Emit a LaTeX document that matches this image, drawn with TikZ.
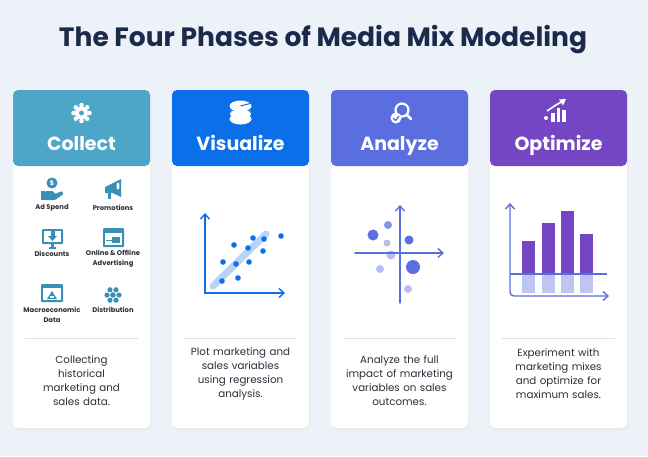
\documentclass[tikz,border=0pt]{standalone}
\usepackage{fontspec}
\setmainfont{Poppins}
\usetikzlibrary{arrows.meta}
\definecolor{bg}{HTML}{EDF1F8}
\definecolor{navy}{HTML}{1B2A4A}
\definecolor{cA}{HTML}{4DA6C8}
\definecolor{cB}{HTML}{0A6FE8}
\definecolor{cC}{HTML}{5B6EE0}
\definecolor{cD}{HTML}{7446C4}
\definecolor{icn}{HTML}{3A8FB5}
\definecolor{txt}{HTML}{2A2F3A}
\definecolor{sep}{HTML}{DDE2EA}
\tikzset{
 card/.style={fill=white,rounded corners=5pt,draw=none},
 head/.style={rounded corners=5pt,draw=none},
 htitle/.style={text=white,font=\fontsize{19}{21}\selectfont\bfseries,anchor=base},
 desc/.style={text=txt,font=\fontsize{10.3}{14}\selectfont,align=center,text width=115pt},
 ilab/.style={text=txt,font=\fontsize{6.8}{10}\selectfont\bfseries,align=center},
 ax/.style={line width=1.4pt,line cap=round,{Straight Barb[length=5pt,width=9pt]}-{Straight Barb[length=5pt,width=9pt]}},
 ax1/.style={line width=1.4pt,line cap=round,-{Straight Barb[length=5pt,width=9pt]}},
}
\begin{document}
\begin{tikzpicture}[x=1pt,y=-1pt]
\fill[bg] (0,0) rectangle (648,456);
\useasboundingbox (0,0) rectangle (648,456);
\node[text=navy,font=\fontsize{26.5}{30}\selectfont\bfseries] (title) at (323,40) {The Four Phases of Media Mix Modeling};
\foreach \x/\c/\n in {13/cA/a,172/cB/b,331/cC/c,490/cD/d}{
 \fill[black!8,rounded corners=5pt] ({\x+1},92) rectangle ({\x+138},430);
 \path[card] (\x,90) rectangle ({\x+137},428);
 \path[head,fill=\c] (\x,90) rectangle ({\x+137},166);
 \draw[sep,line width=0.8pt] ({\x+12},338) -- ({\x+125},338);
}
\node[htitle] (ha) at (81.5,150) {Collect};
\node[htitle] (hb) at (240.5,150) {Visualize};
\node[htitle] (hc) at (399.5,150) {Analyze};
\node[htitle] (hd) at (558.5,150) {Optimize};
% header icons
\begin{scope}[white]
 \foreach \a in {0,45,...,315} \fill (81.5,113) ++(\a:8) circle (2.3);
 \fill (81.5,113) circle (6.5);
 \fill[cA] (81.5,113) circle (2.5);
 \fill (240.5,119) ellipse (11 and 5.5);
 \fill (240.5,113) ellipse (11 and 5.5);
 \draw[cB,line width=1pt] (229.5,114) arc[start angle=180,end angle=360,x radius=11,y radius=5.5];
 \draw[cB,line width=1pt] (229.5,108) arc[start angle=180,end angle=360,x radius=11,y radius=5.5];
 \fill (240.5,106) ellipse (11 and 5.5);
 \draw[cB,line width=1pt] (240.5,106) -- (250,103.5);
 \draw[line width=2.2pt] (402,110) circle (6.5);
 \draw[line width=2.8pt,line cap=round] (407,115) -- (411,119);
 \fill (396,118) circle (5.5);
 \draw[cC,line width=1.3pt] (393,118) -- (395.5,120.5) -- (399,116);
 \fill (551,113) rectangle (554.5,122);
 \fill (556.5,108) rectangle (560,122);
 \fill (562,110) rectangle (566,122);
 \fill (546,118) circle (2);
 \draw[line width=1.6pt] (547,111) -- (556,105) -- (563,101);
 \fill (566,99) -- (559,99.5) -- (563,105.5) -- cycle;
\end{scope}
% collect icons
\begin{scope}[icn]
 \fill (52,183) circle (5.5); \node[white,font=\fontsize{6.5}{6}\selectfont\bfseries] (dol) at (52,183) {\$};
 \fill (41,191) rectangle (44.5,200);
 \fill[rounded corners=1pt] (45,191) -- (53,191) -- (55,194) -- (62,191) -- (63.5,194) -- (55,200) -- (45,200) -- cycle;
 \fill (105,187) -- (113,183) -- (121,179) -- (121,197) -- (113,193) -- (105,193) -- cycle;
 \fill (108,193) rectangle (111,199);
 \fill[white] (118,186) ellipse (1.5 and 3.5);
 \fill[rounded corners=1pt] (42,229) rectangle (63,244);
 \fill[white] (44,231) rectangle (61,242);
 \fill (49,247) rectangle (56,249); \fill (51,244) rectangle (54,247);
 \fill (50.5,231) rectangle (54.5,236); \fill (48,236) -- (57,236) -- (52.5,241) -- cycle;
 \fill[rounded corners=1pt] (103,228) rectangle (124,247);
 \fill[white] (105,233) rectangle (122,245);
 \fill (112,237) rectangle (120,243); \draw[line width=1pt] (106,240) -- (112,240);
 \fill[rounded corners=1pt] (41,284) rectangle (63,302);
 \fill[white] (43,288) rectangle (61,300);
 \fill (47,299) -- (52,291) -- (57,299) -- cycle; \fill[white] (50,298) rectangle (54,296);
 \foreach \a in {0,60,...,300} \fill (113,295) ++(\a:6) circle (2.6);
 \fill (113,295) circle (2.8);
\end{scope}
\node[ilab] (l1) at (52,208) {Ad Spend};
\node[ilab] (l2) at (113,208) {Promotions};
\node[ilab] (l3) at (52,254) {Discounts};
\node[ilab] (l4) at (113,259) {Online \& Offline\\Advertising};
\node[ilab] (l5) at (52,315) {Macroeconomic\\Data};
\node[ilab] (l6) at (113,310) {Distribution};
% visualize chart
\coordinate (vo) at (205,293);
\coordinate (vy) at (205,213);
\coordinate (vx) at (285,293);
\draw[cB!30,line width=7pt,line cap=round] (213,286) -- (266,234);
\draw[ax,cB] (vy) -- (vo) -- (vx);
\foreach \p in {(253,238),(281,236),(264,239),(234,245),(248,248),(263,251),(223,262),(236,264),(249,262),(222,281),(238,278)}
 \fill[cB] \p circle (2.8);
% analyze chart
\coordinate (cy1) at (400,205); \coordinate (cy0) at (400,303);
\coordinate (cx0) at (355,253); \coordinate (cx1) at (444,253);
\foreach \p/\r/\o in {(373,235)/5.5/1,(388,225)/4/0.75,(387,243)/3.5/0.45,(409,240)/4.5/1,(391,255)/4.5/0.45,(380,269)/4/0.45,(413,267)/7/1,(408,289)/4/0.45}
 \fill[cC,opacity=\o] \p circle (\r);
\draw[ax1,cC] (cy0) -- (cy1);
\draw[ax1,cC] (cx0) -- (cx1);
% optimize chart
\foreach \a/\t in {522/241,542/223,561/211,580/234}{
 \fill[cD] (\a,\t) rectangle ({\a+12.5},274);
 \fill[cC!40] (\a,274) rectangle ({\a+12.5},293);
}
\coordinate (oy) at (510,203); \coordinate (oc) at (510,296); \coordinate (ox) at (609,296);
\draw[cC,line width=1.4pt] (510,274) -- (607,274);
\draw[ax,cC,rounded corners=4pt] (oy) -- (oc) -- (ox);
% descriptions
\node[desc] (da) at (81.5,381) {Collecting\\historical\\marketing and\\sales data.};
\node[desc] (db) at (240.5,374) {Plot marketing and\\sales variables\\using regression\\analysis.};
\node[desc] (dc) at (399.5,381) {Analyze the full\\impact of marketing\\variables on sales\\outcomes.};
\node[desc] (dd) at (558.5,374) {Experiment with\\marketing mixes\\and optimize for\\maximum sales.};
\end{tikzpicture}
\end{document}
